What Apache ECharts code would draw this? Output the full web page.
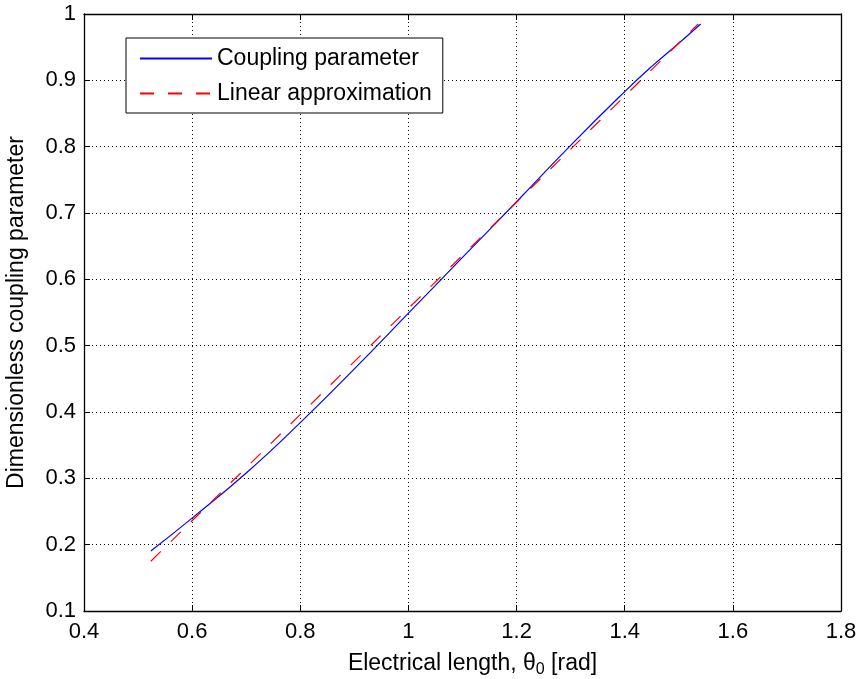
<!DOCTYPE html>
<html>
<head>
<meta charset="utf-8">
<script src="https://cdn.jsdelivr.net/npm/echarts@6/dist/echarts.min.js"></script>
<style>html,body{margin:0;padding:0;background:#fff}#c{width:859px;height:679px}</style>
</head>
<body>
<div id="c"></div>
<script>
// Data
const couplingX = [0.5236, 0.6, 0.7, 0.8, 0.9, 1.0, 1.1, 1.2, 1.3, 1.4, 1.45, 1.5, 1.5405];
const couplingY = [0.1905, 0.240, 0.308, 0.384, 0.465, 0.549, 0.633, 0.717, 0.802, 0.883, 0.921, 0.956, 0.985];
const linearX = [0.5236, 1.536];
const linearY = [0.175, 0.985];
const seriesNames = ['Coupling parameter', 'Linear approximation'];
const xTitle = 'Electrical length, θ{sub|0} [rad]';
const yTitle = 'Dimensionless coupling parameter';

const FONT = '"Liberation Sans", Arial, sans-serif';
const chart = echarts.init(document.getElementById('c'), null, {renderer: 'canvas'});
const pair = (xs, ys) => xs.map((x, i) => [x, ys[i]]);

const gridLine = {show: true, lineStyle: {color: '#000', type: [1, 3], width: 1}};
const tickIn = {show: true, inside: true, length: 6, lineStyle: {color: '#000', width: 1}};
const axisLine = {show: true, onZero: false, lineStyle: {color: '#000', width: 1.3}};

chart.setOption({
  animation: false,
  backgroundColor: '#fff',
  textStyle: {fontFamily: FONT},
  grid: {left: 84, right: 18, top: 14, bottom: 68, containLabel: false, outerBoundsMode: 'none'},
  legend: {
    orient: 'vertical',
    left: 126, top: 38,
    padding: [9, 11, 8, 13],
    itemGap: 12,
    itemWidth: 72, itemHeight: 14,
    borderColor: '#000', borderWidth: 1,
    backgroundColor: '#fff',
    itemStyle: {opacity: 0},
    textStyle: {fontFamily: FONT, fontSize: 23, color: '#000'},
    data: seriesNames
  },
  xAxis: [{
    type: 'value', min: 0.4, max: 1.8, interval: 0.2,
    position: 'bottom',
    axisLine: axisLine, axisTick: tickIn, splitLine: gridLine,
    axisLabel: {color: '#000', fontSize: 22, fontFamily: FONT, margin: 10},
    name: xTitle, nameLocation: 'middle', nameGap: 39,
    nameTextStyle: {color: '#000', fontSize: 23, fontFamily: FONT, padding: [0, 0, 0, 20],
      rich: {sub: {fontSize: 16, fontFamily: FONT, color: '#000', verticalAlign: 'bottom', padding: [12, 0, 0, 0]}}}
  }, {
    type: 'value', min: 0.4, max: 1.8, interval: 0.2,
    position: 'top',
    axisLine: axisLine, axisTick: tickIn, splitLine: {show: false}, axisLabel: {show: false}
  }],
  yAxis: [{
    type: 'value', min: 0.1, max: 1, interval: 0.1,
    position: 'left',
    axisLine: axisLine, axisTick: tickIn, splitLine: gridLine,
    axisLabel: {color: '#000', fontSize: 22, fontFamily: FONT, margin: 8},
    name: yTitle, nameLocation: 'middle', nameGap: 56,
    nameTextStyle: {color: '#000', fontSize: 23, fontFamily: FONT}
  }, {
    type: 'value', min: 0.1, max: 1, interval: 0.1,
    position: 'right',
    axisLine: axisLine, axisTick: tickIn, splitLine: {show: false}, axisLabel: {show: false}
  }],
  series: [{
    name: seriesNames[0], type: 'line', smooth: true,
    symbol: 'none', showSymbol: false,
    lineStyle: {color: '#0000ff', width: 1.2},
    itemStyle: {color: '#0000ff'},
    data: pair(couplingX, couplingY)
  }, {
    name: seriesNames[1], type: 'line',
    symbol: 'none', showSymbol: false,
    lineStyle: {color: '#ff0000', width: 1.2, type: [14, 14]},
    itemStyle: {color: '#ff0000'},
    data: pair(linearX, linearY)
  }]
});
</script>
</body>
</html>
